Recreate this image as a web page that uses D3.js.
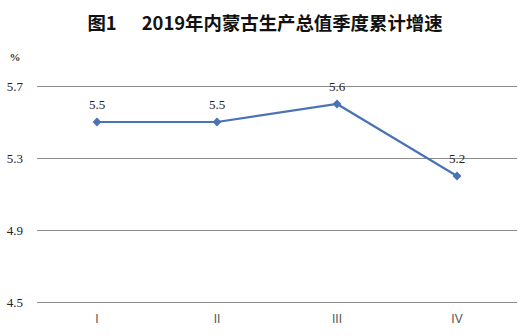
<!DOCTYPE html>
<html>
<head>
<meta charset="utf-8">
<script src="https://cdn.jsdelivr.net/npm/d3@7"></script>
<style>
  html, body { margin: 0; padding: 0; background: #ffffff; }
  svg { display: block; }
  .serif { font-family: "Liberation Serif", "Times New Roman", serif; }
</style>
</head>
<body>
<svg id="chart" width="531" height="336"></svg>
<script>
// Quarterly cumulative GDP growth, Inner Mongolia, 2019 (%)
const quarters = ["I", "II", "III", "IV"];
const growth = [5.5, 5.5, 5.6, 5.2];
const yTicks = [4.5, 4.9, 5.3, 5.7];
const titleText = "图1      2019年内蒙古生产总值季度累计增速";
const unitText = "%";

const svg = d3.select("#chart");
const margin = { left: 37, right: 14, top: 86, bottom: 34 };
const W = 531, H = 336;

const x = d3.scaleBand()
  .domain(quarters)
  .range([margin.left, W - margin.right]);

const y = d3.scaleLinear()
  .domain([4.5, 5.7])
  .range([H - margin.bottom, margin.top]);

// Title
svg.append("text")
  .attr("x", 265)
  .attr("y", 30)
  .attr("text-anchor", "middle")
  .style("white-space", "pre")
  .style("font-family", "'Noto Sans CJK SC', sans-serif")
  .style("font-weight", "bold")
  .style("font-size", "18.4px")
  .attr("fill", "#111")
  .text(titleText);

// Unit
svg.append("text")
  .attr("class", "serif")
  .attr("x", 15)
  .attr("y", 61)
  .attr("text-anchor", "middle")
  .style("font-weight", "bold")
  .style("font-size", "11px")
  .attr("fill", "#333")
  .text(unitText);

// Horizontal gridlines via y axis
const yAxis = d3.axisLeft(y)
  .tickValues(yTicks)
  .tickFormat(d3.format(".1f"))
  .tickSize(-(W - margin.left - margin.right))
  .tickPadding(14);

const gy = svg.append("g")
  .attr("transform", `translate(${margin.left},0)`)
  .call(yAxis);
gy.select(".domain").remove();
gy.selectAll(".tick line").attr("stroke", "#8a8a8a").attr("stroke-width", 1);
gy.selectAll(".tick text")
  .attr("class", "serif")
  .style("font-size", "13px")
  .attr("fill", "#222");

// Category axis labels
const xAxis = d3.axisBottom(x).tickSize(0).tickPadding(12);
const gx = svg.append("g")
  .attr("transform", `translate(0,${y(4.5)})`)
  .call(xAxis);
gx.select(".domain").remove();
gx.selectAll(".tick text")
  .style("font-family", "'Liberation Sans', Arial, sans-serif")
  .style("font-size", "12px")
  .attr("fill", "#555");

const cx = d => x(d) + x.bandwidth() / 2;
const pts = quarters.map((q, i) => ({ q, v: growth[i] }));

// Line
svg.append("path")
  .datum(pts)
  .attr("fill", "none")
  .attr("stroke", "#4a72b4")
  .attr("stroke-width", 2.2)
  .attr("d", d3.line().x(d => cx(d.q)).y(d => y(d.v)));

// Diamond markers
svg.selectAll(".marker")
  .data(pts)
  .join("path")
  .attr("class", "marker")
  .attr("transform", d => `translate(${cx(d.q)},${y(d.v)})`)
  .attr("d", d3.symbol().type(d3.symbolDiamond2).size(50))
  .attr("fill", "#4a72b4");

// Value labels
svg.selectAll(".val")
  .data(pts)
  .join("text")
  .attr("class", "val serif")
  .attr("x", d => cx(d.q))
  .attr("y", d => y(d.v) - 13)
  .attr("text-anchor", "middle")
  .style("font-size", "13px")
  .attr("fill", "#222")
  .text(d => d.v.toFixed(1));
</script>
</body>
</html>
